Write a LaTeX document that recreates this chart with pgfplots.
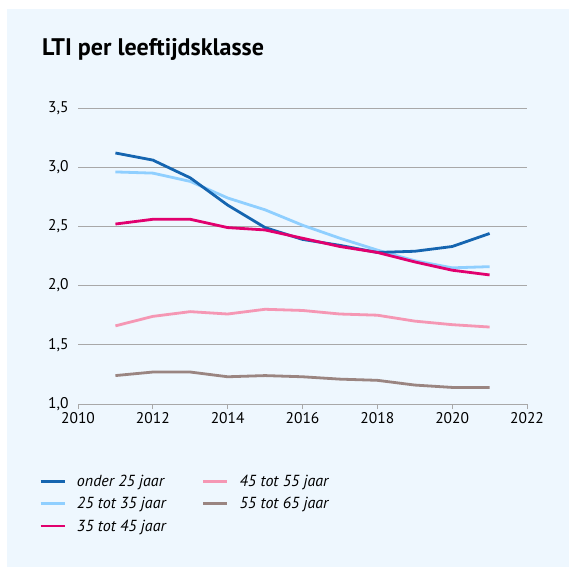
\documentclass[border=0pt]{standalone}
\usepackage{pgfplots}
\pgfplotsset{compat=1.18}
\usepackage{fontspec}
\setmainfont{PT Sans}
\definecolor{bgpanel}{HTML}{EEF7FE}
\definecolor{cdark}{HTML}{1565B0}
\definecolor{clight}{HTML}{8FCFFF}
\definecolor{cmag}{HTML}{E1006E}
\definecolor{cpink}{HTML}{F597B4}
\definecolor{cbrown}{HTML}{9A8581}
\definecolor{cgrid}{HTML}{A8A8A8}
\begin{document}
\begin{tikzpicture}[x=1pt,y=1pt]
\path[fill=white] (0,0) rectangle (569,567);
\path[fill=bgpanel] (7,0) rectangle (569,558);
\node[anchor=base west, inner sep=0pt, font=\fontsize{24}{28}\selectfont\bfseries] at (42,511) {LTI per leeftijdsklasse};
\begin{axis}[
  at={(78pt,163pt)}, anchor=south west,
  scale only axis, width=449pt, height=296pt,
  xmin=2010, xmax=2022, ymin=1, ymax=3.5,
  xtick={2010,2012,...,2022}, ytick={1,1.5,...,3.5},
  axis x line*=bottom, axis y line*=left,
  x axis line style={draw=cgrid, line width=0.9pt, -},
  y axis line style={draw=none},
  ytick style={draw=none},
  xtick style={draw=cgrid, line width=0.9pt},
  tick align=outside, major tick length=5pt,
  ymajorgrids, grid style={cgrid, line width=0.9pt},
  x tick label style={/pgf/number format/1000 sep={}, font=\fontsize{15.5}{18}\selectfont, yshift=0pt},
  y tick label style={/pgf/number format/.cd, use comma, fixed, fixed zerofill, precision=1, /tikz/.cd, font=\fontsize{15.5}{18}\selectfont},
  /pgf/number format/assume math mode=true,
  yticklabel style={xshift=-1pt},
  clip=false,
  legend columns=2,
  legend cell align=left,
  legend style={at={(-0.087,-0.232)}, anchor=north west, draw=none, fill=none, inner sep=0pt,
    font=\fontsize{16}{19}\selectfont\itshape,
    row sep=5.5pt,
    /tikz/every even column/.append style={column sep=36pt},
    nodes={inner xsep=0pt}},
  legend image code/.code={\draw[#1, line width=2.8pt] (0pt,0pt) -- (24pt,0pt);},
  every axis plot/.append style={line width=2.8pt},
]
\addplot[cpink, forget plot] coordinates {(2011,1.66)(2012,1.74)(2013,1.78)(2014,1.76)(2015,1.80)(2016,1.79)(2017,1.76)(2018,1.75)(2019,1.70)(2020,1.67)(2021,1.65)};
\addplot[cbrown, forget plot] coordinates {(2011,1.24)(2012,1.27)(2013,1.27)(2014,1.23)(2015,1.24)(2016,1.23)(2017,1.21)(2018,1.20)(2019,1.16)(2020,1.14)(2021,1.14)};
\addplot[clight, forget plot] coordinates {(2011,2.96)(2012,2.95)(2013,2.88)(2014,2.74)(2015,2.64)(2016,2.51)(2017,2.40)(2018,2.30)(2019,2.21)(2020,2.15)(2021,2.16)};
\addplot[cdark, forget plot] coordinates {(2011,3.12)(2012,3.06)(2013,2.91)(2014,2.68)(2015,2.49)(2016,2.39)(2017,2.34)(2018,2.28)(2019,2.29)(2020,2.33)(2021,2.44)};
\addplot[cmag, forget plot] coordinates {(2011,2.52)(2012,2.56)(2013,2.56)(2014,2.49)(2015,2.47)(2016,2.40)(2017,2.33)(2018,2.28)(2019,2.20)(2020,2.13)(2021,2.09)};
\addlegendimage{cdark}\addlegendentry{\hspace{11pt}onder 25 jaar}
\addlegendimage{cpink}\addlegendentry{\hspace{11pt}45 tot 55 jaar}
\addlegendimage{clight}\addlegendentry{\hspace{11pt}25 tot 35 jaar}
\addlegendimage{cbrown}\addlegendentry{\hspace{11pt}55 tot 65 jaar}
\addlegendimage{cmag}\addlegendentry{\hspace{11pt}35 tot 45 jaar}
\end{axis}
\end{tikzpicture}
\end{document}
